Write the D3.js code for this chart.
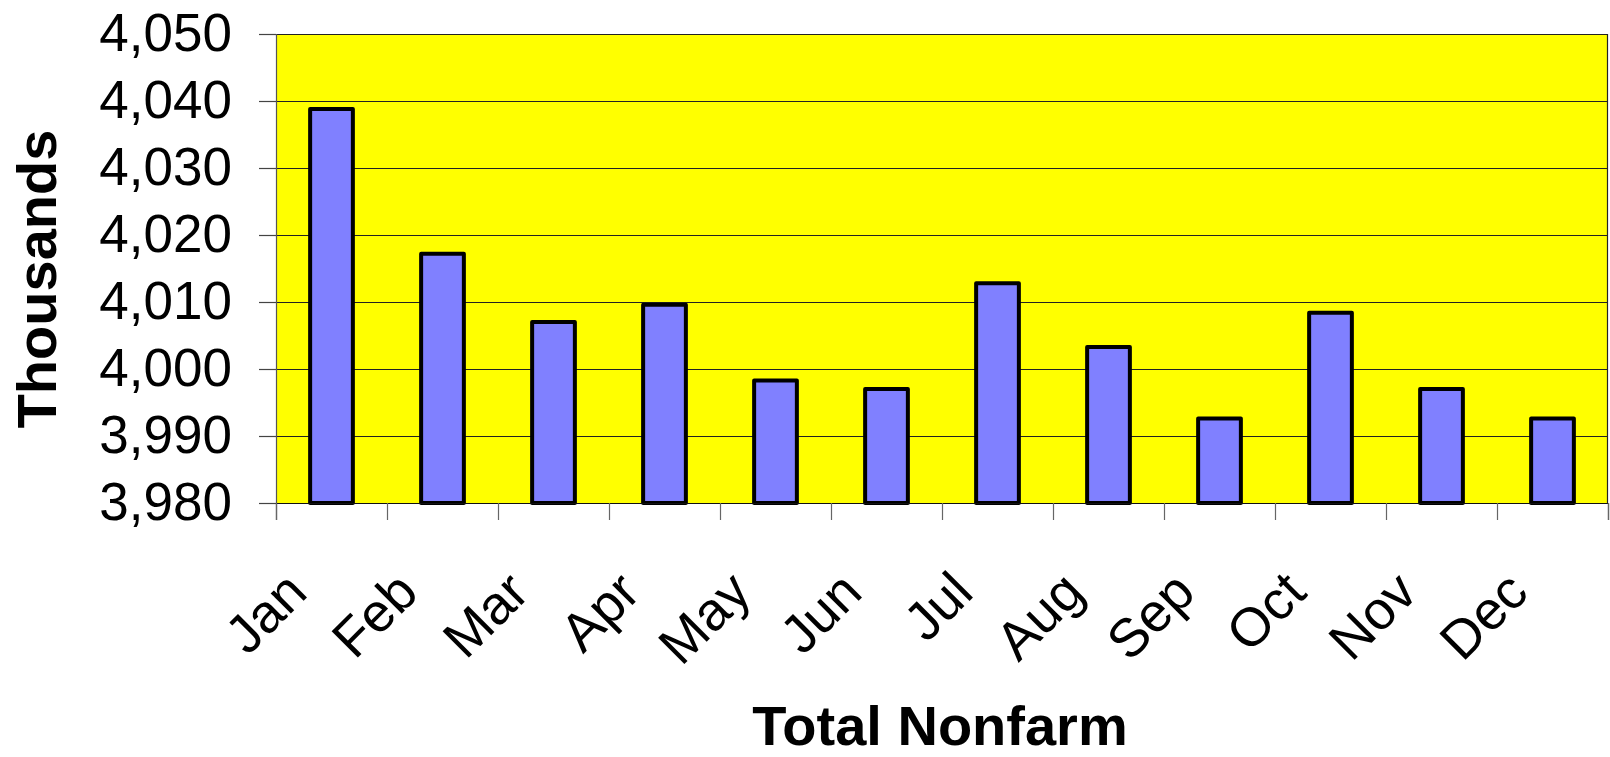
<!DOCTYPE html>
<html>
<head>
  <meta charset="utf-8">
  <title>Total Nonfarm</title>
  <script src="https://d3js.org/d3.v7.min.js"></script>
  <style>
    body { margin: 0; background: #fff; }
    text { font-family: Arial, "Liberation Sans", Helvetica, sans-serif; fill: #000; }
  </style>
</head>
<body>
  <script>
    // values (thousands)
    const months = ["Jan", "Feb", "Mar", "Apr", "May", "Jun", "Jul", "Aug", "Sep", "Oct", "Nov", "Dec"];
    const values = [4038.8, 4017.2, 4007.0, 4009.6, 3998.3, 3997.0, 4012.8, 4003.3, 3992.6, 4008.4, 3997.0, 3992.6];
    const yTicks = [3980, 3990, 4000, 4010, 4020, 4030, 4040, 4050];

    const width = 1610, height = 757;
    const plot = { left: 276, right: 1608, top: 34, bottom: 503 };

    const svg = d3.select("body").append("svg")
      .attr("width", width)
      .attr("height", height);

    const x = d3.scaleBand().domain(months).range([plot.left, plot.right]).padding(0);
    const xEdges = d3.scaleLinear().domain([0, months.length]).range([plot.left, plot.right]);
    const y = d3.scaleLinear().domain([3980, 4050]).range([plot.bottom, plot.top]);

    // yellow plot area
    svg.append("rect")
      .attr("x", plot.left).attr("y", plot.top)
      .attr("width", plot.right - plot.left).attr("height", plot.bottom - plot.top)
      .attr("fill", "#ffff00");

    // gridlines
    svg.append("g").selectAll("line").data(yTicks).join("line")
      .attr("x1", plot.left).attr("x2", plot.right)
      .attr("y1", d => Math.round(y(d)) + 0.5).attr("y2", d => Math.round(y(d)) + 0.5)
      .attr("stroke", "#222").attr("stroke-width", 1.2);

    // right border
    svg.append("line")
      .attr("x1", plot.right - 0.5).attr("x2", plot.right - 0.5)
      .attr("y1", plot.top).attr("y2", plot.bottom)
      .attr("stroke", "#222").attr("stroke-width", 1.2);

    // bars
    const bw = x.bandwidth() * 0.385;
    svg.append("g").selectAll("rect").data(values).join("rect")
      .attr("x", (d, i) => x(months[i]) + x.bandwidth() / 2 - bw / 2)
      .attr("y", d => y(d))
      .attr("width", bw)
      .attr("height", d => y(3980) - y(d))
      .attr("fill", "#8080ff")
      .attr("stroke", "#000")
      .attr("stroke-width", 4)
      .attr("stroke-linejoin", "round");

    // y axis
    const yAxis = svg.append("g")
      .attr("transform", `translate(${plot.left},0)`)
      .call(d3.axisLeft(y).tickValues(yTicks).tickFormat(d3.format(",")).tickSize(17).tickPadding(27));
    yAxis.select(".domain").attr("stroke", "#555").attr("stroke-width", 1.2);
    yAxis.selectAll(".tick line").attr("stroke", "#444").attr("stroke-width", 1.2);
    yAxis.selectAll(".tick text")
      .attr("font-size", 53)
      .attr("font-family", "Arial, 'Liberation Sans', sans-serif")
      .attr("fill", "#000")
      .attr("dy", "0.32em");

    // x axis: tick marks at band edges
    const xAxis = svg.append("g")
      .attr("transform", `translate(0,${plot.bottom})`)
      .call(d3.axisBottom(xEdges).tickValues(d3.range(months.length + 1)).tickFormat("").tickSize(17));
    xAxis.select(".domain").attr("stroke", "#111").attr("stroke-width", 1.2);
    xAxis.selectAll(".tick line").attr("stroke", "#666").attr("stroke-width", 1.2);

    // rotated month labels
    svg.append("g").selectAll("text").data(months).join("text")
      .attr("transform", d => `translate(${x(d) + x.bandwidth() / 2 - 22},${plot.bottom + 92}) rotate(-45)`)
      .attr("text-anchor", "end")
      .attr("font-size", 54)
      .text(d => d);

    // axis titles
    svg.append("text")
      .attr("transform", "translate(56,279) rotate(-90)")
      .attr("text-anchor", "middle")
      .attr("font-size", 56)
      .attr("font-weight", "bold")
      .text("Thousands");

    svg.append("text")
      .attr("x", 940).attr("y", 745)
      .attr("text-anchor", "middle")
      .attr("font-size", 56)
      .attr("font-weight", "bold")
      .text("Total Nonfarm");
  </script>
</body>
</html>
